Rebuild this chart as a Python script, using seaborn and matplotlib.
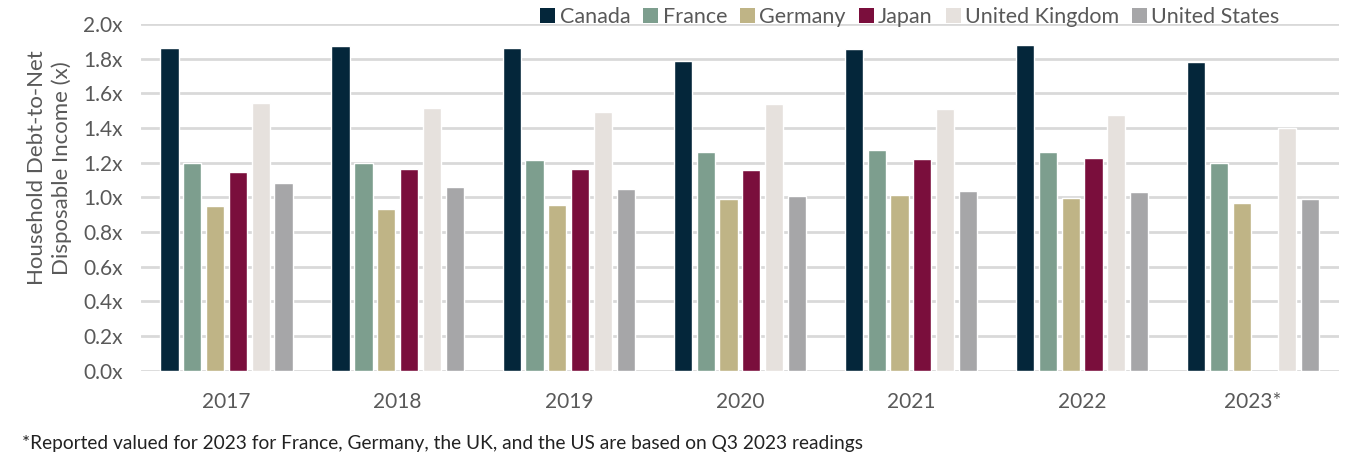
import matplotlib
matplotlib.use('Agg')
import matplotlib.pyplot as plt
from matplotlib.patches import Patch
import numpy as np
import pandas as pd
import seaborn as sns

YEARS = ['2017', '2018', '2019', '2020', '2021', '2022', '2023*']
COUNTRIES = ['Canada', 'France', 'Germany', 'Japan', 'United Kingdom', 'United States']

CANADA = [1.862, 1.875, 1.862, 1.787, 1.858, 1.878, 1.783]
FRANCE = [1.198, 1.197, 1.214, 1.260, 1.275, 1.262, 1.198]
GERMANY = [0.948, 0.933, 0.958, 0.989, 1.014, 0.997, 0.968]
JAPAN = [1.148, 1.164, 1.162, 1.156, 1.220, 1.227, np.nan]
UK = [1.545, 1.518, 1.493, 1.539, 1.508, 1.474, 1.402]
US = [1.083, 1.060, 1.048, 1.006, 1.039, 1.031, 0.991]

COLOURS = ['#04263A', '#7D9E8E', '#BFB486', '#7A0E3C', '#E6E1DD', '#A6A6A8']

FOOTNOTE = ('*Reported valued for 2023 for France, Germany, the UK, '
            'and the US are based on Q3 2023 readings')


def main():
    series = [CANADA, FRANCE, GERMANY, JAPAN, UK, US]
    df = pd.DataFrame({
        'Year': [y for _ in COUNTRIES for y in YEARS],
        'Country': [c for c in COUNTRIES for _ in YEARS],
        'Value': [v for s in series for v in s],
    })

    sns.set_style('white')
    plt.rcParams['font.family'] = ['Lato', 'DejaVu Sans']
    grey = '#595959'

    fig = plt.figure(figsize=(13.54, 4.66), dpi=100)
    ax = fig.add_axes([141 / 1354, 1 - 370.7 / 466, (1338.7 - 141) / 1354, (370.7 - 24) / 466])

    sns.barplot(data=df, x='Year', y='Value', hue='Country', order=YEARS,
                hue_order=COUNTRIES, palette=COLOURS, width=0.8, gap=0.2,
                saturation=1, legend=False, ax=ax, zorder=3)

    ax.set_ylim(0, 2.0)
    ax.set_xlim(-0.5, len(YEARS) - 0.5)
    ticks = np.arange(0, 2.01, 0.2)
    ax.set_yticks(ticks)
    ax.set_yticklabels([f'{t:.1f}x' for t in ticks])
    ax.yaxis.grid(True, color='#D9D9D9', linewidth=2, zorder=0)
    ax.set_axisbelow(True)
    for s in ax.spines.values():
        s.set_visible(False)
    ax.tick_params(axis='both', length=0, labelsize=15, colors=grey)
    ax.tick_params(axis='x', pad=15)
    ax.tick_params(axis='y', pad=13)
    ax.set_xlabel('')
    ax.set_ylabel('Household Debt-to-Net\nDisposable Income (x)', fontsize=16,
                  color=grey, linespacing=1.3, labelpad=8)
    ax.yaxis.label.set_y(0.585)

    handles = [Patch(facecolor=c, edgecolor='none') for c in COLOURS]
    fig.legend(handles, COUNTRIES, loc='center', bbox_to_anchor=(910 / 1354, 1 - 17 / 466),
               ncol=6, frameon=False, fontsize=15.5, handlelength=0.7, handleheight=0.7,
               handletextpad=0.2, columnspacing=0.6, labelcolor=grey, borderaxespad=0)

    fig.text(22 / 1354, 1 - 443 / 466, FOOTNOTE, fontsize=13.8, color='#222222', va='center')

    fig.savefig('out.png', dpi=100)


if __name__ == '__main__':
    main()
